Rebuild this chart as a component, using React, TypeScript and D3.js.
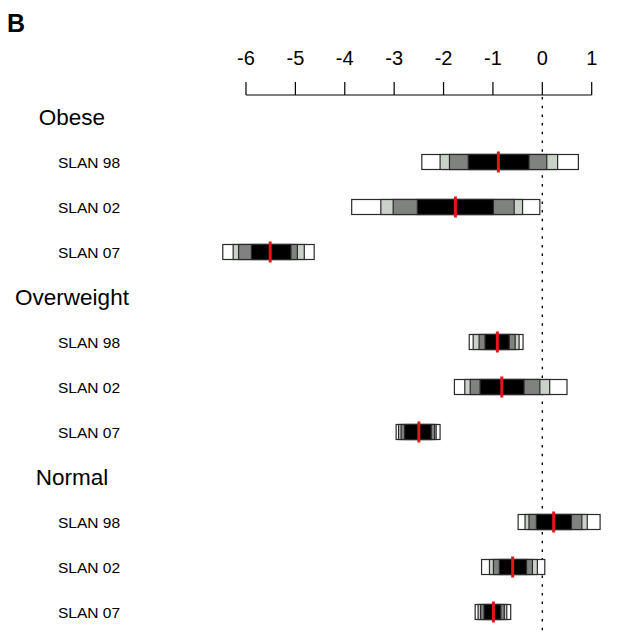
import React from "react";
import * as d3 from "d3";

// Groups and surveys, in drawing order
const groups = ["Obese", "Overweight", "Normal"];
const surveys = ["SLAN 98", "SLAN 02", "SLAN 07"];

// Axis ticks
const ticks = [-6, -5, -4, -3, -2, -1, 0, 1];

// Interval bounds per group x survey (obese 98/02/07, overweight 98/02/07, normal 98/02/07)
const medians = [-0.89, -1.76, -5.51, -0.91, -0.82, -2.5, 0.23, -0.6, -0.99];
const outerLo = [-2.44, -3.86, -6.47, -1.48, -1.78, -2.96, -0.49, -1.23, -1.36];
const outerHi = [0.73, -0.05, -4.62, -0.39, 0.5, -2.07, 1.17, 0.05, -0.64];
const lightLo = [-2.07, -3.27, -6.26, -1.4, -1.57, -2.91, -0.35, -1.07, -1.3];
const lightHi = [0.31, -0.4, -4.82, -0.47, 0.15, -2.15, 0.91, -0.1, -0.72];
const darkLo = [-1.88, -3.02, -6.15, -1.28, -1.46, -2.86, -0.27, -0.99, -1.25];
const darkHi = [0.09, -0.57, -4.96, -0.55, -0.05, -2.18, 0.8, -0.2, -0.77];
const coreLo = [-1.5, -2.53, -5.89, -1.16, -1.26, -2.79, -0.12, -0.87, -1.18];
const coreHi = [-0.27, -0.99, -5.09, -0.67, -0.37, -2.25, 0.59, -0.32, -0.84];

const W = 627;
const H = 634;
const FONT = "'Liberation Sans', Arial, Helvetica, sans-serif";

export default function App() {
  const x = d3.scaleLinear().domain([-6, 1]).range([246, 591.7]);

  // one row per group heading plus one per survey
  type Row = { kind: "group" | "survey"; label: string; idx: number };
  const rows: Row[] = [];
  groups.forEach((g, gi) => {
    rows.push({ kind: "group", label: g, idx: -1 });
    surveys.forEach((s, si) => rows.push({ kind: "survey", label: s, idx: gi * 3 + si }));
  });
  const y = d3
    .scalePoint<number>()
    .domain(rows.map((_, i) => i))
    .range([117, 612]);

  const axisY = 95;
  const barH = 15;
  const bands = [
    { lo: outerLo, hi: outerHi, fill: "#ffffff" },
    { lo: lightLo, hi: lightHi, fill: "#c9d1c9" },
    { lo: darkLo, hi: darkHi, fill: "#7f827f" },
    { lo: coreLo, hi: coreHi, fill: "#000000" },
  ];

  return (
    <svg
      width={W}
      height={H}
      style={{ position: "absolute", left: 0, top: 0, background: "#fff" }}
      fontFamily={FONT}
    >
      <rect width={W} height={H} fill="#fff" />
      <text x={7} y={31.5} fontSize={25} fontWeight="bold" fill="#000">
        B
      </text>

      {/* axis */}
      <line x1={x(-6)} x2={x(1)} y1={axisY} y2={axisY} stroke="#000" strokeWidth={1.2} />
      {ticks.map((t) => (
        <g key={t}>
          <line x1={x(t)} x2={x(t)} y1={axisY} y2={axisY - 13} stroke="#000" strokeWidth={1.2} />
          <text x={x(t)} y={64.5} fontSize={20} textAnchor="middle" fill="#000">
            {t}
          </text>
        </g>
      ))}

      {/* reference line at zero */}
      <line
        x1={x(0)}
        x2={x(0)}
        y1={axisY + 2}
        y2={H}
        stroke="#000"
        strokeWidth={1.4}
        strokeDasharray="2.5,6.2"
      />

      {rows.map((r, i) => {
        const cy = y(i)!;
        if (r.kind === "group") {
          return (
            <text key={i} x={72} y={cy + 8} fontSize={22.5} textAnchor="middle" fill="#000">
              {r.label}
            </text>
          );
        }
        const k = r.idx;
        return (
          <g key={i}>
            <text x={58} y={cy + 5.5} fontSize={15.5} fill="#000">
              {r.label}
            </text>
            {bands.map((b, bi) => (
              <rect
                key={bi}
                x={x(b.lo[k])}
                y={cy - barH / 2}
                width={x(b.hi[k]) - x(b.lo[k])}
                height={barH}
                fill={b.fill}
                stroke="#2a2a2a"
                strokeWidth={1.2}
              />
            ))}
            <line
              x1={x(medians[k])}
              x2={x(medians[k])}
              y1={cy - 10.5}
              y2={cy + 10.5}
              stroke="#e8141c"
              strokeWidth={3}
            />
          </g>
        );
      })}
    </svg>
  );
}
